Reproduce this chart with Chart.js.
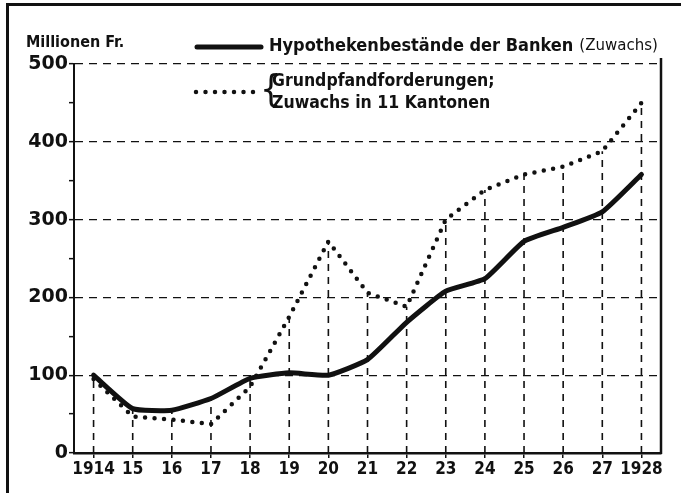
<!DOCTYPE html>
<html>
<head>
<meta charset="utf-8">
<script src="https://cdn.jsdelivr.net/npm/chart.js@4"></script>
<style>
  html, body { margin: 0; padding: 0; background: #fff; }
  #wrap { position: relative; width: 681px; height: 493px; }
</style>
</head>
<body>
<div id="wrap"><canvas id="graph" width="681" height="493"></canvas></div>
<script>
const years = ["1914", "15", "16", "17", "18", "19", "20", "21", "22", "23", "24", "25", "26", "27", "1928"];
// Hypothekenbestände der Banken (Zuwachs), Mio. Fr.
const hypotheken = [100, 57, 55, 70, 96, 103, 100, 120, 168, 208, 224, 272, 290, 310, 358];
// Grundpfandforderungen; Zuwachs in 11 Kantonen
const grundpfand = [95, 47, 43, 37, 85, 175, 272, 206, 188, 300, 338, 358, 368, 388, 450];
const yTicks = [0, 100, 200, 300, 400, 500];

const FONT = '"DejaVu Sans Condensed", "Liberation Sans Narrow", sans-serif';
const WIDE = '"DejaVu Sans", "Liberation Sans", sans-serif';
const INK = "#111";

// frame, right border of the plot, vertical dashed drop lines
const decorations = {
  id: "decorations",
  beforeDatasetsDraw(chart) {
    const { ctx, chartArea, scales } = chart;
    const x = scales.x, y = scales.y;
    ctx.save();
    ctx.strokeStyle = INK;
    ctx.lineWidth = 1.6;
    ctx.setLineDash([7, 6]);
    years.forEach((yr, i) => {
      const top = Math.max(hypotheken[i], grundpfand[i]);
      const px = x.getPixelForValue(i);
      ctx.beginPath();
      ctx.moveTo(px, y.getPixelForValue(0));
      ctx.lineTo(px, y.getPixelForValue(top));
      ctx.stroke();
    });
    ctx.setLineDash([]);
    ctx.lineWidth = 2.5;
    ctx.beginPath();
    ctx.moveTo(chartArea.right, chartArea.top - 6);
    ctx.lineTo(chartArea.right, chartArea.bottom + 1);
    ctx.stroke();
    ctx.restore();
  },
  afterDraw(chart) {
    const { ctx } = chart;
    const ds = chart.data.datasets;
    ctx.save();
    ctx.fillStyle = INK;
    // outer frame (left + top)
    ctx.fillRect(6, 3, 3, 490);
    ctx.fillRect(6, 3, 675, 3);

    ctx.textBaseline = "middle";
    ctx.textAlign = "left";
    ctx.font = "bold 16px " + FONT;
    ctx.fillText("Millionen Fr.", 26, 43);

    // legend: solid line
    ctx.strokeStyle = ds[0].borderColor;
    ctx.lineWidth = ds[0].borderWidth;
    ctx.lineCap = "round";
    ctx.beginPath();
    ctx.moveTo(197, 47);
    ctx.lineTo(261, 47);
    ctx.stroke();
    ctx.font = "bold 18px " + FONT;
    const t1 = "Hypothekenbestände der Banken";
    ctx.fillText(t1, 269, 46);
    const w1 = ctx.measureText(t1).width;
    ctx.font = "15px " + WIDE;
    ctx.fillText("(Zuwachs)", 269 + w1 + 6, 46);

    // legend: dotted line
    ctx.strokeStyle = ds[1].borderColor;
    ctx.lineWidth = ds[1].borderWidth;
    ctx.setLineDash(ds[1].borderDash);
    ctx.beginPath();
    ctx.moveTo(196, 92);
    ctx.lineTo(262, 92);
    ctx.stroke();
    ctx.setLineDash([]);
    ctx.font = "38px " + FONT;
    ctx.fillText("{", 260, 91);
    ctx.font = "bold 17.5px " + FONT;
    ctx.fillText("Grundpfandforderungen;", 272, 81);
    ctx.fillText("Zuwachs in 11 Kantonen", 272, 103);
    ctx.restore();
  }
};

new Chart(document.getElementById("graph"), {
  type: "line",
  data: {
    labels: years,
    datasets: [
      {
        label: "Hypothekenbestände der Banken (Zuwachs)",
        data: hypotheken,
        borderColor: INK,
        borderWidth: 5,
        borderCapStyle: "round",
        borderJoinStyle: "round",
        tension: 0.15,
        pointRadius: 0,
        fill: false
      },
      {
        label: "Grundpfandforderungen; Zuwachs in 11 Kantonen",
        data: grundpfand,
        borderColor: INK,
        borderWidth: 4.5,
        borderDash: [0, 9.5],
        borderCapStyle: "round",
        tension: 0,
        pointRadius: 0,
        fill: false
      }
    ]
  },
  options: {
    responsive: false,
    animation: false,
    devicePixelRatio: 1,
    layout: { padding: { left: 0, top: 64, right: 20, bottom: 0 } },
    plugins: { legend: { display: false }, tooltip: { enabled: false } },
    scales: {
      x: {
        offset: true,
        grid: { display: true, drawOnChartArea: false, color: INK, tickLength: 5, lineWidth: 1.5 },
        border: { display: true, color: INK, width: 2.5 },
        ticks: { color: INK, padding: 1, maxRotation: 0, autoSkip: false, font: { family: FONT, size: 17, weight: "bold" } },
        afterFit(scale) { scale.height = 40; }
      },
      y: {
        min: 0,
        max: 500,
        grid: {
          color: (c) => (c.tick && c.tick.value % 100 === 0 && c.tick.value > 0 ? INK : "rgba(0,0,0,0)"),
          tickColor: INK,
          lineWidth: 1.3,
          tickLength: 5,
          tickWidth: 1.5
        },
        border: { display: true, color: INK, width: 2, dash: [8, 6] },
        ticks: {
          stepSize: 50,
          autoSkip: false,
          color: INK,
          padding: 1,
          font: { family: WIDE, size: 19, weight: "bold" },
          callback: (v) => (yTicks.includes(v) ? String(v) : "")
        },
        afterFit(scale) { scale.width = 74; }
      }
    }
  },
  plugins: [decorations]
});
</script>
</body>
</html>
